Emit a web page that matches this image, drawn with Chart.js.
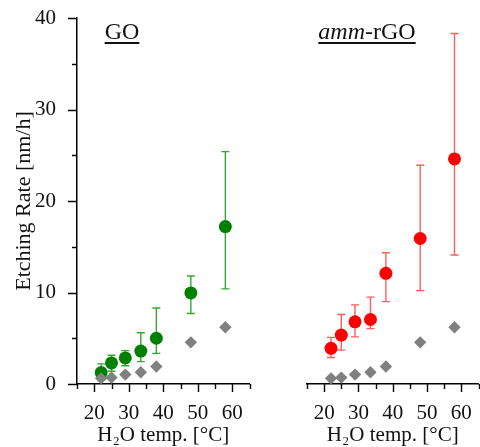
<!DOCTYPE html>
<html lang="en">
<head>
  <meta charset="UTF-8">
  <title>Etching Rate vs H2O temp.</title>
  <script src="https://cdn.jsdelivr.net/npm/chart.js"></script>
  <style>
    body { margin: 0; width: 480px; height: 447px; overflow: hidden; background: #fff; position: relative; font-family: "Liberation Serif", serif; }
    .panel { position: absolute; top: 0; height: 447px; }
    #leftBox { left: 0; width: 256px; }
    #rightBox { left: 255px; width: 230px; }
    .label { position: absolute; top: 19px; font-size: 24px; line-height: 24px; color: #111; text-decoration: underline; text-decoration-thickness: 1.5px; text-underline-offset: 3px; white-space: nowrap; transform: translateX(-50%); }
  </style>
</head>
<body>
  <div class="panel" id="leftBox"><canvas id="goChart"></canvas></div>
  <div class="panel" id="rightBox"><canvas id="rgoChart"></canvas></div>
  <div class="label" style="left:122px">GO</div>
  <div class="label" style="left:367px"><i>amm</i>-rGO</div>

  <script>
    // water temperature (°C)
    const temps = [22, 25, 29, 33.5, 38, 48, 58];

    // GO etching rate (nm/h) with error bar ends
    const goRate = [1.25, 2.3, 2.85, 3.6, 5.0, 9.95, 17.2];
    const goHigh = [2.2, 3.15, 3.65, 5.6, 8.3, 11.8, 25.4];
    const goLow  = [0.45, 1.4, 2.0, 2.45, 3.35, 7.7, 10.4];

    // amm-rGO etching rate (nm/h) with error bar ends
    const rgoRate = [3.9, 5.35, 6.8, 7.05, 12.1, 15.9, 24.6];
    const rgoHigh = [5.1, 7.6, 8.65, 9.5, 14.35, 23.9, 38.3];
    const rgoLow  = [2.9, 3.7, 5.15, 6.05, 9.0, 10.2, 14.1];

    // grey reference diamonds (same in both panels)
    const refRate = [0.62, 0.7, 1.03, 1.28, 1.92, 4.55, 6.2];

    const xMin = 15, xMax = 65, yMin = 0, yMax = 40;

    Chart.defaults.font.family = '"Liberation Serif", "Times New Roman", serif';
    Chart.defaults.color = '#111';

    const errorBars = {
      id: 'errorBars',
      beforeDatasetsDraw(chart) {
        const ctx = chart.ctx;
        const xs = chart.scales.x, ys = chart.scales.y;
        chart.data.datasets.forEach(ds => {
          if (!ds.errLow) return;
          ctx.save();
          ctx.strokeStyle = ds.errColor;
          ctx.lineWidth = 1.4;
          ctx.beginPath();
          ds.data.forEach((p, i) => {
            const x = xs.getPixelForValue(p.x);
            const hi = ys.getPixelForValue(ds.errHigh[i]);
            const lo = ys.getPixelForValue(ds.errLow[i]);
            ctx.moveTo(x, hi); ctx.lineTo(x, lo);
            ctx.moveTo(x - 4, hi); ctx.lineTo(x + 4, hi);
            ctx.moveTo(x - 4, lo); ctx.lineTo(x + 4, lo);
          });
          ctx.stroke();
          ctx.restore();
        });
      }
    };

    const tickMarks = {
      id: 'tickMarks',
      afterDraw(chart) {
        const { ctx, chartArea: a } = chart;
        const xs = chart.scales.x, ys = chart.scales.y;
        ctx.save();
        ctx.strokeStyle = '#000';
        ctx.lineWidth = 1.4;
        ctx.beginPath();
        for (let v = xMin; v <= xMax; v += 5) {
          const px = Math.round(xs.getPixelForValue(v)) + 0.5;
          const len = v % 10 === 0 ? 8 : 5;
          ctx.moveTo(px, a.bottom); ctx.lineTo(px, a.bottom + len);
        }
        if (ys.options.display) {
          for (let v = yMin; v <= yMax; v += 5) {
            const py = Math.round(ys.getPixelForValue(v)) + 0.5;
            const len = v % 10 === 0 ? 9 : 5;
            ctx.moveTo(a.left, py); ctx.lineTo(a.left - len, py);
          }
        }
        ctx.stroke();
        ctx.restore();
      }
    };

    function makeChart(id, rate, high, low, color, barColor, showY) {
      const ctx = document.getElementById(id).getContext('2d');
      return new Chart(ctx, {
        type: 'scatter',
        data: {
          datasets: [
            {
              data: temps.map((t, i) => ({ x: t, y: refRate[i] })),
              pointStyle: 'rectRot',
              pointRadius: 6.2,
              backgroundColor: '#808080',
              borderWidth: 0
            },
            {
              data: temps.map((t, i) => ({ x: t, y: rate[i] })),
              pointStyle: 'circle',
              pointRadius: 6.5,
              backgroundColor: color,
              borderWidth: 0,
              errHigh: high,
              errLow: low,
              errColor: barColor
            }
          ]
        },
        options: {
          responsive: true,
          maintainAspectRatio: false,
          animation: false,
          events: [],
          layout: { padding: { top: 18, right: 3.5, bottom: 0, left: showY ? 0 : 52 } },
          plugins: { legend: { display: false }, tooltip: { enabled: false } },
          scales: {
            x: {
              type: 'linear',
              min: xMin, max: xMax,
              grid: { display: false },
              border: { display: true, color: '#000', width: 1.5 },
              ticks: {
                stepSize: 5,
                padding: 9,
                autoSkip: false,
                maxRotation: 0,
                minRotation: 0,
                font: { size: 21 },
                color: '#111',
                callback: v => (v % 10 === 0 ? v : '')
              },
              title: {
                display: true,
                text: 'H\u2082O temp. [\u00B0C]',
                font: { size: 21, lineHeight: 1 },
                color: '#111',
                padding: { top: 0, bottom: 1 }
              },
              afterFit: s => { s.height = 63; s.paddingLeft = 0; s.paddingRight = 0; }
            },
            y: {
              display: showY,
              min: yMin, max: yMax,
              grid: { display: false },
              border: { display: true, color: '#000', width: 1.5 },
              ticks: {
                stepSize: 5,
                padding: 13,
                font: { size: 21 },
                color: '#111',
                callback: v => (v % 10 === 0 ? v : '')
              },
              title: {
                display: true,
                text: 'Etching Rate [nm/h]',
                font: { size: 22, lineHeight: 1 },
                color: '#111',
                padding: { top: 13, bottom: 0 }
              },
              afterFit: s => {
                s.width = showY ? 77 : 0;
                s.paddingTop = 0;
                s.paddingBottom = 0;
              }
            }
          }
        },
        plugins: [errorBars, tickMarks]
      });
    }

    makeChart('goChart', goRate, goHigh, goLow, '#008000', '#33a833', true);
    makeChart('rgoChart', rgoRate, rgoHigh, rgoLow, '#ff0000', '#ff5c5c', false);
  </script>
</body>
</html>
